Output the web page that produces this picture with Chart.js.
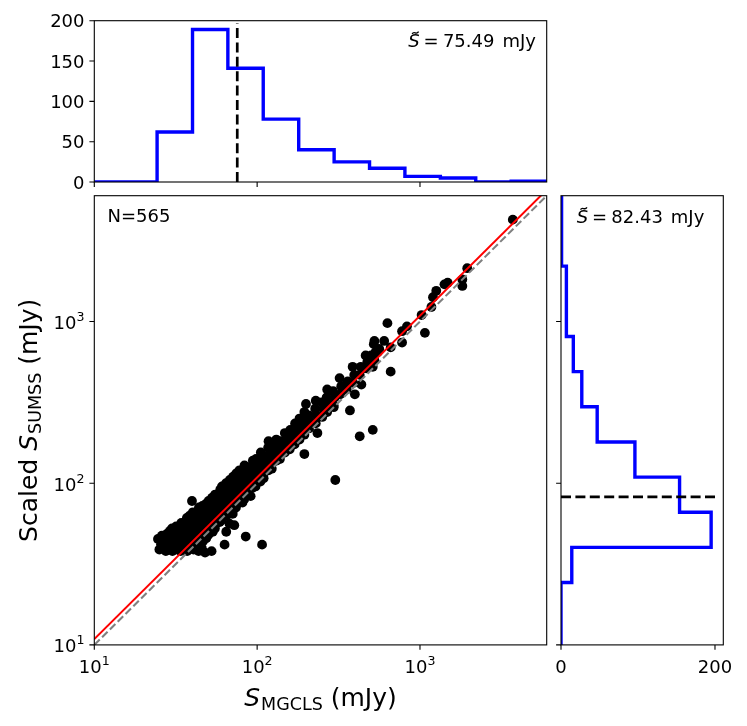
<!DOCTYPE html>
<html><head><meta charset="utf-8">
<script src="https://cdn.jsdelivr.net/npm/chart.js@4.4.1/dist/chart.umd.min.js"></script>
<style>
html,body{margin:0;padding:0;background:#fff;}
#wrap{position:relative;width:747px;height:726px;overflow:hidden;background:#fff;}
canvas{position:absolute;left:0;top:0;}
</style></head><body>
<div id="wrap">
<canvas id="topHist" width="747" height="726"></canvas>
<canvas id="mainPlot" width="747" height="726"></canvas>
<canvas id="sideHist" width="747" height="726"></canvas>
</div>
<script>
// ---------------- data ----------------
const fluxMin = 10, fluxMax = 6000;
const decadeTicks = [10, 100, 1000];
const topCountTicks = [0, 50, 100, 150, 200];
const sideCountTicks = [0, 200];
const binEdges = [24.3, 40.1, 66.1, 109, 180, 297, 490, 808, 1334, 2200, 3631, 5992];
const mgclsCounts = [62, 189, 141, 78, 40, 25, 17, 7, 5, 0, 1];
const sumssCounts = [14, 195, 154, 96, 47, 27, 16, 7, 7, 1, 1];
const mgclsMedian = 75.49;
const sumssMedian = 82.43;
const nSources = 565;
const fitLine = [[10, 10.87], [6000, 6520]];
const oneToOne = [[10, 10], [6000, 6000]];
// [S_MGCLS, scaled S_SUMSS] in mJy
const sources = [
[25.1,38.9],[25.7,41.9],[24.6,45.2],
[26.3,39.8],[26.9,43.4],[26.0,47.4],
[27.5,38.0],[28.1,41.3],[27.2,44.9],[27.9,48.5],
[28.8,39.6],[29.4,42.7],[28.5,46.8],[29.1,50.6],
[30.2,38.0],[30.8,40.9],[29.9,44.7],[30.6,48.6],[30.0,52.5],
[32.4,38.9],[33.1,42.7],[32.0,46.8],[32.8,50.1],[31.8,54.0],
[33.9,38.0],[34.6,40.7],[33.5,44.7],[34.4,47.9],[33.6,52.5],[34.2,56.8],
[35.5,39.8],[36.2,42.7],[35.1,46.8],[36.0,50.1],[35.3,55.0],[36.4,57.5],
[37.2,38.0],[37.9,41.7],[36.8,44.7],[37.6,49.0],[36.9,52.5],[37.8,57.5],[37.0,61.0],
[38.9,39.8],[39.6,43.7],[38.5,46.8],[39.4,51.3],[38.7,55.0],[39.5,60.3],[38.6,63.1],
[40.7,38.9],[41.4,41.7],[40.2,45.7],[41.2,49.0],[40.4,53.7],[41.3,57.5],[40.9,63.1],[40.3,66.1],
[43.7,38.0],[44.5,40.7],[43.2,44.7],[44.3,47.9],[43.4,52.5],[44.6,56.2],[43.5,61.7],[44.2,66.1],[43.9,70.8],
[45.7,39.8],[46.5,43.7],[45.2,46.8],[46.3,51.3],[45.4,55.0],[46.4,60.3],[45.6,64.6],[46.1,72.4],
[47.9,37.2],[48.7,45.7],[47.4,49.0],[48.5,53.7],[47.6,57.5],[48.6,63.1],[47.7,67.6],[48.2,74.1],
[50.1,47.9],[51.0,51.3],[49.6,56.2],[50.8,60.3],[49.8,66.1],[50.9,70.8],[50.3,77.6],
[52.5,38.0],[53.4,50.1],[52.0,53.7],[53.2,58.9],[52.2,63.1],[53.3,69.2],[52.4,74.1],[52.9,81.3],
[55.0,52.5],[55.9,56.2],[54.5,61.7],[55.7,66.1],[54.7,72.4],[55.8,77.6],[55.2,85.1],
[58.9,57.5],[57.9,61.7],[59.8,67.6],[58.4,72.4],[59.5,79.4],[58.5,85.1],[59.3,91.2],
[60.3,58.9],[61.4,64.6],[60.0,69.2],[61.2,75.9],[60.5,81.3],[61.6,89.1],[60.8,95.5],
[64.6,63.1],[65.6,67.6],[64.0,74.1],[65.4,79.4],[64.3,87.1],[65.2,93.3],[64.4,100],
[67.6,64.6],[68.7,70.8],[67.0,75.9],[68.4,83.2],[67.3,89.1],[68.6,97.7],[67.9,104.7],
[70.8,64.6],[71.9,69.2],[70.2,74.1],[71.6,81.3],[70.4,87.1],[71.8,95.5],[70.6,102.3],[71.2,109.6],
[74.1,70.8],[75.3,77.6],[73.5,83.2],[74.9,91.2],[73.7,97.7],[75.1,107.2],[74.4,114.8],
[77.6,75.9],[78.8,81.3],[77.0,89.1],[78.5,95.5],[77.2,104.7],[78.7,112.2],[77.9,120.2],
[83.2,79.4],[84.5,87.1],[82.5,93.3],[84.2,102.3],[82.8,109.6],[84.4,120.2],[83.6,128.8],
[87.1,85.1],[88.4,91.2],[86.3,100],[88.2,107.2],[86.6,117.5],[87.9,125.9],
[93.3,93.3],[94.8,100],[92.5,107.2],[94.5,117.5],[92.7,125.9],[94.1,138.0],
[97.7,95.5],[99.2,104.7],[96.9,112.2],[98.9,123.0],[97.1,131.8],[98.4,141.3],
[104.7,102.3],[106.3,112.2],[103.8,120.2],[106.0,131.8],[104.1,141.3],[105.3,154.9],
[109.6,107.2],[111.3,117.5],[108.7,125.9],[111.0,138.0],[109.2,147.9],
[117.5,120.2],[119.3,128.8],[116.5,141.3],[119.0,151.4],[116.8,166.0],[117.5,182.0],
[123.0,123.0],[124.9,134.9],[122.0,144.5],[124.6,158.5],[122.4,169.8],
[131.8,138.0],[133.8,147.9],[130.7,162.2],[133.4,173.8],[131.1,186.2],
[138.0,141.3],[140.1,154.9],[136.9,166.0],[139.6,182.0],
[147.9,154.9],[150.1,169.8],[146.7,182.0],[147.9,204.2],
[158.5,162.2],[160.9,177.8],[157.2,195.0],[159.6,213.8],
[169.8,173.8],[172.3,190.5],[168.4,213.8],[170.9,234.4],
[182.0,186.2],[184.7,204.2],[180.5,223.9],[182.0,251.2],
[195.0,199.5],[197.9,218.8],[193.4,245.5],[195.0,275.4],[199.5,309.0],
[208.9,218.8],[212.0,239.9],[207.2,263.0],
[229.1,234.4],[232.5,263.0],[227.2,288.4],[229.1,323.6],
[251.2,257.0],[254.9,288.4],[249.1,316.2],
[269.2,275.4],[273.2,309.0],[267.0,338.8],[269.2,380.2],
[295.1,302.0],[299.5,338.8],[292.7,371.5],
[323.6,354.8],[328.4,398.1],[320.9,446.7],
[354.8,380.2],[359.9,426.6],
[389.0,416.9],[394.7,467.7],[385.8,524.8],
[426.6,467.7],[432.9,524.8],
[467.7,512.9],[474.6,562.3],[463.8,616.6],
[524.8,575.4],[532.5,645.7],[520.4,724.4],
[524.8,758.6],[602.6,758.6],[631.0,977.2],[660.7,691.8],[549.5,645.7],[660.7,489.8],
[776.2,871.0],[776.2,741.3],[831.8,933.3],[1023,1096],[1072,851.1],[1175,1230],
[1202,1413],[1259,1549],[1413,1698],[1479,1738],[1820,1820],[1820,1660],[1950,2138],
[3715,4266],[501.2,616.6],[512.9,524.8],[446.7,512.9],[436.5,407.4],[562.3,676.1],
[302.0,104.7],[426.6,195.0],[512.9,213.8],[371.5,281.8],[398.1,354.8],[234.4,204.2],
[195.0,151.4],[295.1,295.1],[63.1,41.7],[85.1,46.8],[107.2,41.7],[67.6,56.2],
[72.4,55.0],[64.6,50.1],[91.2,83.2],[81.3,75.9],[39.8,77.6]
];

// ---------------- helpers ----------------
const FONT = '"DejaVu Sans", "Liberation Sans", sans-serif';
function setFont(ctx, size, italic) { ctx.font = (italic ? 'italic ' : '') + size + 'px ' + FONT; }
const W = 747, H = 726;
const areaMain = {left: 94.3, top: 195.7, right: 546.7, bottom: 644.9};
const areaTop = {left: 94.3, top: 20.7, right: 546.7, bottom: 182};
const areaSide = {left: 561, top: 195.7, right: 723.3, bottom: 644.9};
function pad(a) { return {left: a.left, top: a.top, right: W - a.right, bottom: H - a.bottom}; }
const pts = arr => arr.map(p => ({x: p[0], y: p[1]}));

function drawPow(ctx, base, exp, x, y, align) {
  setFont(ctx, 18); const wb = ctx.measureText(base).width;
  setFont(ctx, 12.6); const we = ctx.measureText(exp).width;
  const w = wb + we;
  const x0 = align === 'center' ? x - w / 2 : (align === 'right' ? x - w : x);
  ctx.textAlign = 'left'; ctx.textBaseline = 'alphabetic';
  setFont(ctx, 18); ctx.fillText(base, x0, y);
  setFont(ctx, 12.6); ctx.fillText(exp, x0 + wb, y - 8);
}
function drawMedianText(ctx, x0, base, value) {
  ctx.textAlign = 'left'; ctx.textBaseline = 'alphabetic'; ctx.fillStyle = '#000';
  setFont(ctx, 18, true); ctx.fillText('S', x0, base);
  ctx.save(); ctx.strokeStyle = '#000'; ctx.lineWidth = 1.3;
  const ty = base - 14.2;
  ctx.beginPath(); ctx.moveTo(x0 + 3.8, ty + 1.1);
  ctx.bezierCurveTo(x0 + 5.8, ty - 2.4, x0 + 8.0, ty + 2.6, x0 + 10.3, ty - 1.1);
  ctx.stroke(); ctx.restore();
  setFont(ctx, 18); ctx.fillText('=', x0 + 15.2, base);
  ctx.fillText(value.toFixed(2), x0 + 34.6, base);
  ctx.fillText('mJy', x0 + 94.1, base);
}
function drawAxisLabel(ctx, prefix, sub, cx, base) {
  setFont(ctx, 25); const wp = prefix ? ctx.measureText(prefix).width : 0;
  setFont(ctx, 25, true); const ws = ctx.measureText('S').width;
  setFont(ctx, 17.5); const wsub = ctx.measureText(sub).width;
  setFont(ctx, 25); const wr = ctx.measureText(' (mJy)').width;
  const w = wp + ws + 1 + wsub + wr;
  let x = cx - w / 2;
  ctx.textAlign = 'left'; ctx.textBaseline = 'alphabetic'; ctx.fillStyle = '#000';
  if (prefix) { setFont(ctx, 25); ctx.fillText(prefix, x, base); x += wp; }
  setFont(ctx, 25, true); ctx.fillText('S', x, base); x += ws + 1;
  setFont(ctx, 17.5); ctx.fillText(sub, x, base + 3.5); x += wsub;
  setFont(ctx, 25); ctx.fillText(' (mJy)', x, base);
}
function framePlugin(id, xTicks, yTicks, extra) {
  return {
    id: id,
    afterDatasetsDraw(chart) {
      const ctx = chart.ctx, a = chart.chartArea;
      const xs = chart.scales.x, ys = chart.scales.y;
      ctx.save();
      ctx.strokeStyle = '#000'; ctx.lineWidth = 1.1;
      ctx.beginPath();
      xTicks.forEach(v => { const x = xs.getPixelForValue(v); ctx.moveTo(x, a.bottom); ctx.lineTo(x, a.bottom + 4.9); });
      yTicks.forEach(v => { const y = ys.getPixelForValue(v); ctx.moveTo(a.left - 4.9, y); ctx.lineTo(a.left, y); });
      ctx.stroke();
      ctx.strokeRect(a.left, a.top, a.right - a.left, a.bottom - a.top);
      ctx.fillStyle = '#000';
      if (extra) extra(ctx, chart, xs, ys, a);
      ctx.restore();
    }
  };
}
function baseOptions(area, xScale, yScale) {
  return {
    responsive: false, animation: false, events: [],
    layout: {padding: pad(area)},
    plugins: {legend: {display: false}, tooltip: {enabled: false}},
    scales: {x: Object.assign({display: false}, xScale), y: Object.assign({display: false}, yScale)}
  };
}
function stepOutline(edges, counts, start, horizontal) {
  const out = [[start, 0], [edges[0], 0]];
  counts.forEach((c, i) => { out.push([edges[i], c]); out.push([edges[i + 1], c]); });
  out.push([edges[edges.length - 1], 0]);
  return out.map(p => horizontal ? {x: p[1], y: p[0]} : {x: p[0], y: p[1]});
}

// ---------------- main scatter ----------------
new Chart(document.getElementById('mainPlot'), {
  type: 'scatter',
  data: {datasets: [
    {data: pts(oneToOne), showLine: true, borderColor: '#808080', borderWidth: 2.1, borderDash: [7.7, 3.3], pointRadius: 0, order: 0, clip: 0},
    {data: pts(fitLine), showLine: true, borderColor: '#ff0000', borderWidth: 2, pointRadius: 0, order: 1, clip: 0},
    {data: pts(sources), showLine: false, pointRadius: 4.9, pointBackgroundColor: '#000', pointBorderWidth: 0, order: 2, clip: 0}
  ]},
  options: baseOptions(areaMain,
    {type: 'logarithmic', min: fluxMin, max: fluxMax},
    {type: 'logarithmic', min: fluxMin, max: fluxMax}),
  plugins: [framePlugin('mainFrame', decadeTicks, decadeTicks, (ctx, chart, xs, ys, a) => {
    decadeTicks.forEach(v => {
      const e = String(Math.round(Math.log10(v)));
      drawPow(ctx, '10', e, xs.getPixelForValue(v), a.bottom + 28.1, 'center');
      drawPow(ctx, '10', e, a.left - 9.8, ys.getPixelForValue(v) + 7.5, 'right');
    });
    setFont(ctx, 18); ctx.textAlign = 'left'; ctx.fillText('N=' + nSources, 107.5, 222);
    drawAxisLabel(ctx, '', 'MGCLS', (a.left + a.right) / 2, 706);
    ctx.save(); ctx.translate(37, (a.top + a.bottom) / 2); ctx.rotate(-Math.PI / 2);
    drawAxisLabel(ctx, 'Scaled ', 'SUMSS', 0, 0);
    ctx.restore();
  })]
});

// ---------------- top histogram ----------------
new Chart(document.getElementById('topHist'), {
  type: 'scatter',
  data: {datasets: [
    {data: [{x: mgclsMedian, y: 0}, {x: mgclsMedian, y: 197}], showLine: true, borderColor: '#000', borderWidth: 2.7, borderDash: [10, 4.4], pointRadius: 0, order: 0, clip: 0},
    {data: stepOutline(binEdges, mgclsCounts, fluxMin, false), showLine: true, borderColor: '#0000ff', borderWidth: 3.4, pointRadius: 0, order: 1, clip: 0}
  ]},
  options: baseOptions(areaTop,
    {type: 'logarithmic', min: fluxMin, max: fluxMax},
    {type: 'linear', min: 0, max: 200}),
  plugins: [framePlugin('topFrame', decadeTicks, topCountTicks, (ctx, chart, xs, ys, a) => {
    setFont(ctx, 18); ctx.textAlign = 'right'; ctx.textBaseline = 'alphabetic';
    topCountTicks.forEach(v => ctx.fillText(String(v), a.left - 9.8, ys.getPixelForValue(v) + 6.6));
    drawMedianText(ctx, 408.3, 47, mgclsMedian);
  })]
});

// ---------------- side histogram ----------------
new Chart(document.getElementById('sideHist'), {
  type: 'scatter',
  data: {datasets: [
    {data: [{x: 0, y: sumssMedian}, {x: 201, y: sumssMedian}], showLine: true, borderColor: '#000', borderWidth: 2.7, borderDash: [10, 4.4], pointRadius: 0, order: 0, clip: 0},
    {data: stepOutline(binEdges, sumssCounts, fluxMin, true), showLine: true, borderColor: '#0000ff', borderWidth: 3.4, pointRadius: 0, order: 1, clip: 0}
  ]},
  options: baseOptions(areaSide,
    {type: 'linear', min: 0, max: 210.8},
    {type: 'logarithmic', min: fluxMin, max: fluxMax}),
  plugins: [framePlugin('sideFrame', sideCountTicks, decadeTicks, (ctx, chart, xs, ys, a) => {
    setFont(ctx, 18); ctx.textAlign = 'center'; ctx.textBaseline = 'alphabetic';
    sideCountTicks.forEach(v => ctx.fillText(String(v), xs.getPixelForValue(v), a.bottom + 28.1));
    drawMedianText(ctx, 576.7, 222.7, sumssMedian);
  })]
});
</script>
</body></html>
